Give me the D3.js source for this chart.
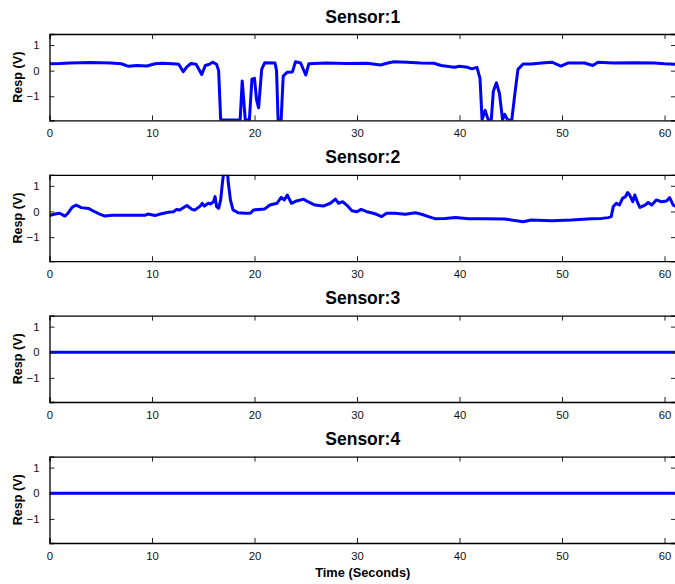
<!DOCTYPE html>
<html>
<head>
<meta charset="utf-8">
<script src="https://cdn.jsdelivr.net/npm/d3@7"></script>
<style>
html,body{margin:0;padding:0;background:#fff;}
svg{display:block;font-family:"Liberation Sans",Arial,sans-serif;}
</style>
</head>
<body>
<svg id="chart" width="675" height="584"></svg>
<script>
// ---- data ----
const sensorTitles = ["Sensor:1", "Sensor:2", "Sensor:3", "Sensor:4"];
const xTicks = [0, 10, 20, 30, 40, 50, 60];
const yTicks = [-1, 0, 1];
const xDomain = [0, 61.12];
const yDomain = [-1.94, 1.43];

const s1Time = [0, 1, 2, 3, 4, 5, 6, 7, 7.7, 8.5, 9.5, 10.3, 11, 12, 12.6, 13.05, 13.4, 13.8, 14.3, 14.85, 15.2, 15.6, 15.9, 16.3, 16.5, 16.7, 18.6, 18.8, 19.1, 19.5, 19.75, 20.0, 20.2, 20.4, 20.7, 21.0, 22.0, 22.15, 22.3, 22.6, 22.8, 23.2, 23.7, 24.0, 24.5, 25.0, 25.3, 25.8, 27, 29, 31, 32.3, 33, 33.6, 34.9, 36.2, 37.5, 38.2, 39.5, 40, 40.8, 41.2, 41.7, 42.0, 42.2, 42.5, 42.8, 43.1, 43.3, 43.6, 43.9, 44.2, 44.4, 44.7, 45.1, 45.4, 45.7, 46.2, 47, 48, 49, 49.9, 50.6, 52.2, 53, 53.5, 55, 57, 59, 60, 61.12];
const s1Value = [0.27, 0.28, 0.3, 0.31, 0.32, 0.31, 0.3, 0.27, 0.17, 0.2, 0.18, 0.27, 0.29, 0.27, 0.25, -0.04, 0.15, 0.28, 0.25, -0.15, 0.2, 0.25, 0.33, 0.25, 0.0, -1.92, -1.92, -0.4, -1.92, -1.92, -0.32, -0.3, -1.14, -1.45, 0.05, 0.31, 0.3, 0.0, -1.92, -1.92, -0.21, -0.06, -0.05, 0.35, 0.3, -0.17, 0.27, 0.28, 0.3, 0.28, 0.29, 0.22, 0.3, 0.35, 0.33, 0.3, 0.29, 0.2, 0.13, 0.17, 0.13, 0.07, 0.13, -0.3, -1.92, -1.55, -1.92, -1.92, -0.8, -0.47, -0.9, -1.92, -1.7, -1.92, -1.92, -0.9, 0.05, 0.26, 0.26, 0.3, 0.33, 0.18, 0.3, 0.3, 0.2, 0.33, 0.3, 0.31, 0.3, 0.27, 0.25];

const s2Time = [0, 0.54, 1.0, 1.5, 1.8, 2.2, 2.6, 3.1, 3.8, 4.4, 4.9, 5.4, 6.1, 8, 9.3, 9.6, 10.3, 10.8, 11.6, 12.1, 12.4, 12.7, 13.4, 13.9, 14.2, 14.7, 14.9, 15.1, 15.5, 15.7, 16.0, 16.15, 16.3, 16.5, 16.7, 16.9, 17.1, 17.3, 17.45, 17.65, 17.9, 18.4, 19.1, 19.6, 19.9, 20.4, 21.0, 21.5, 22.2, 22.6, 22.9, 23.2, 23.6, 24.1, 24.8, 25.2, 25.9, 26.7, 27.4, 27.9, 28.2, 28.6, 29.0, 29.5, 30, 30.4, 30.95, 31.4, 31.9, 32.4, 32.9, 33.7, 34.7, 35.7, 36.3, 36.97, 37.6, 38.6, 39.6, 40.9, 42.5, 44.4, 46.2, 47, 49, 50.9, 52.9, 53.9, 54.5, 54.8, 55.0, 55.3, 55.6, 55.9, 56.2, 56.4, 56.6, 56.9, 57.1, 57.4, 57.6, 58.1, 58.4, 58.75, 59.2, 59.7, 60.2, 60.5, 60.85, 61.12];
const s2Value = [-0.16, -0.1, -0.07, -0.18, -0.07, 0.16, 0.25, 0.15, 0.12, -0.01, -0.1, -0.18, -0.15, -0.15, -0.15, -0.1, -0.16, -0.1, -0.03, -0.01, 0.08, 0.06, 0.23, 0.08, 0.06, 0.21, 0.32, 0.21, 0.32, 0.29, 0.38, 0.58, 0.19, 0.12, 0.45, 1.23, 1.8, 1.8, 1.1, 0.45, 0.06, -0.05, -0.07, -0.07, 0.06, 0.08, 0.1, 0.25, 0.32, 0.55, 0.45, 0.64, 0.32, 0.41, 0.48, 0.38, 0.25, 0.21, 0.32, 0.48, 0.32, 0.38, 0.25, 0.03, -0.01, 0.08, -0.01, -0.05, -0.11, -0.2, -0.07, -0.07, -0.11, -0.05, -0.11, -0.2, -0.28, -0.27, -0.24, -0.28, -0.28, -0.29, -0.4, -0.33, -0.36, -0.33, -0.28, -0.27, -0.24, -0.2, 0.19, 0.32, 0.25, 0.51, 0.58, 0.74, 0.64, 0.38, 0.64, 0.32, 0.16, 0.25, 0.35, 0.25, 0.45, 0.38, 0.41, 0.54, 0.25, 0.2];

const s3Time = [0, 61.12];
const s3Value = [0, 0];
const s4Time = [0, 61.12];
const s4Value = [0, 0];

const seriesTimes = [s1Time, s2Time, s3Time, s4Time];
const seriesValues = [s1Value, s2Value, s3Value, s4Value];

const xLabel = "Time (Seconds)";
const yLabel = "Resp (V)";

// ---- layout ----
const svg = d3.select("#chart");
const left = 49.5, right = 676;
const plotTops = [34, 174.8, 315.6, 456.6];
const plotH = 86.4;

const x = d3.scaleLinear().domain(xDomain).range([left, right]);

plotTops.forEach((top, i) => {
  const y = d3.scaleLinear().domain(yDomain).range([top + plotH, top]);
  const g = svg.append("g");

  const clipId = "clip" + i;
  svg.append("clipPath").attr("id", clipId)
    .append("rect").attr("x", left).attr("y", top).attr("width", right - left).attr("height", plotH);

  const data = seriesTimes[i].map((t, k) => [t, seriesValues[i][k]]);
  g.append("path")
    .datum(data)
    .attr("clip-path", `url(#${clipId})`)
    .attr("fill", "none")
    .attr("stroke", "#0000ff")
    .attr("stroke-width", 3)
    .attr("stroke-linejoin", "round")
    .attr("d", d3.line().x(d => x(d[0])).y(d => y(d[1])));

  // axes (ticks inward)
  const bottomAxis = d3.axisBottom(x).tickValues(xTicks).tickSize(-5).tickPadding(9).tickFormat(d3.format("d"));
  const topAxis = d3.axisTop(x).tickValues(xTicks).tickSize(-5).tickFormat("");
  const leftAxis = d3.axisLeft(y).tickValues(yTicks).tickSize(-5).tickPadding(10).tickFormat(d3.format("d"));
  const rightAxis = d3.axisRight(y).tickValues(yTicks).tickSize(-5).tickFormat("");

  const styleAxis = sel => {
    sel.selectAll(".domain").attr("stroke", "#000").attr("stroke-width", 1.3);
    sel.selectAll(".tick line").attr("stroke", "#222").attr("stroke-width", 1);
    sel.selectAll(".tick text").attr("fill", "#111").style("font-size", "11.3px")
      .style("font-family", "'Liberation Sans', Arial, sans-serif");
  };

  g.append("g").attr("transform", `translate(0,${top + plotH})`).call(bottomAxis).call(styleAxis)
    .selectAll(".tick line").filter(d => d === 0).remove();
  g.append("g").attr("transform", `translate(0,${top})`).call(topAxis).call(styleAxis)
    .selectAll(".tick line").filter(d => d === 0).remove();
  g.append("g").attr("transform", `translate(${left},0)`).call(leftAxis).call(styleAxis);
  g.append("g").attr("transform", `translate(${right},0)`).call(rightAxis).call(styleAxis);

  // title
  svg.append("text")
    .attr("x", (left + right) / 2)
    .attr("y", top - 11.5)
    .attr("text-anchor", "middle")
    .style("font-weight", "bold")
    .style("font-size", "17.5px")
    .text(sensorTitles[i]);

  // y label
  svg.append("text")
    .attr("transform", `translate(${21.5},${top + plotH / 2}) rotate(-90)`)
    .attr("text-anchor", "middle")
    .style("font-weight", "bold")
    .style("font-size", "12.6px")
    .text(yLabel);
});

svg.append("text")
  .attr("x", (left + right) / 2)
  .attr("y", 577)
  .attr("text-anchor", "middle")
  .style("font-weight", "bold")
  .style("font-size", "12.8px")
  .text(xLabel);
</script>
</body>
</html>
